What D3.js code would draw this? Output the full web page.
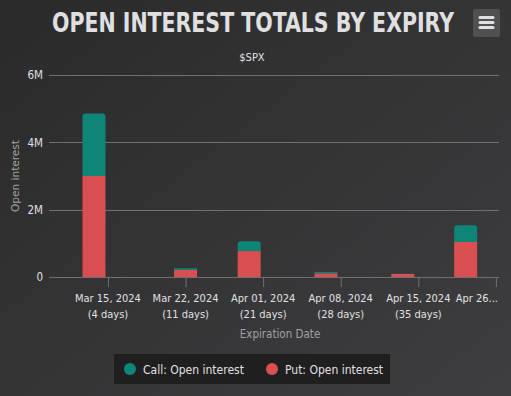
<!DOCTYPE html>
<html>
<head>
<meta charset="utf-8">
<script src="https://cdn.jsdelivr.net/npm/d3@7"></script>
<style>
  html, body { margin: 0; padding: 0; background: #2a2a2b; }
  svg { display: block; }
  text { font-family: "DejaVu Sans Condensed", "Liberation Sans Narrow", "Roboto", sans-serif; }
</style>
</head>
<body>
<div id="chart"></div>
<script>
// expiries, as positions on the axis (tick index units)
var barPos = [-0.18, 1.0, 1.82, 2.81, 3.80, 4.61];
var putOI  = [3000000, 210000, 770000, 110000, 90000, 1040000];
var callOI = [1860000, 50000, 290000, 40000, 5000, 500000];

var tickPos = [0, 1, 2, 3, 4, 5];
var tickDate = ["Mar 15, 2024", "Mar 22, 2024", "Apr 01, 2024", "Apr 08, 2024", "Apr 15, 2024", "Apr 26..."];
var tickDays = ["(4 days)", "(11 days)", "(21 days)", "(28 days)", "(35 days)", ""];

var yTicks = [0, 2000000, 4000000, 6000000];

var W = 511, H = 396;
var callColor = "#0f8577", putColor = "#d94f51";

var svg = d3.select("#chart").append("svg")
  .attr("width", W)
  .attr("height", H);

var defs = svg.append("defs");
var grad = defs.append("linearGradient")
  .attr("id", "bg")
  .attr("x1", 0).attr("y1", 0).attr("x2", 1).attr("y2", 1);
grad.append("stop").attr("offset", 0).attr("stop-color", "#2a2a2b");
grad.append("stop").attr("offset", 1).attr("stop-color", "#3e3e40");

svg.append("rect")
  .attr("width", W).attr("height", H)
  .attr("fill", "url(#bg)");

var x = d3.scaleLinear().domain([-0.76, 5.04]).range([49, 499]);
var y = d3.scaleLinear().domain([0, 6000000]).range([277, 75]);

// title + subtitle
svg.append("text")
  .attr("x", 253).attr("y", 32)
  .attr("text-anchor", "middle")
  .attr("fill", "#e0e0e3")
  .attr("font-size", 26)
  .attr("font-weight", "bold")
  .attr("textLength", 402)
  .attr("lengthAdjust", "spacingAndGlyphs")
  .text("OPEN INTEREST TOTALS BY EXPIRY");

svg.append("text")
  .attr("x", 252).attr("y", 61)
  .attr("text-anchor", "middle")
  .attr("fill", "#e0e0e3")
  .attr("font-size", 11)
  .text("$SPX");

// menu button
var menu = svg.append("g").attr("transform", "translate(473,9)");
menu.append("rect")
  .attr("width", 27).attr("height", 28).attr("rx", 2)
  .attr("fill", "#505053");
[8.5, 13.5, 18.5].forEach(function(d){
  menu.append("line")
    .attr("x1", 7).attr("x2", 20).attr("y1", d).attr("y2", d)
    .attr("stroke", "#e0e0e3").attr("stroke-width", 3)
    .attr("stroke-linecap", "round");
});

// grid
svg.append("g").selectAll("line")
  .data(yTicks.slice(1))
  .enter().append("line")
  .attr("x1", 49).attr("x2", 499)
  .attr("y1", function(d){ return Math.round(y(d)) + 0.5; })
  .attr("y2", function(d){ return Math.round(y(d)) + 0.5; })
  .attr("stroke", "#707073");

// y axis
var yAxis = svg.append("g")
  .attr("transform", "translate(49,0)")
  .call(d3.axisLeft(y).tickValues(yTicks).tickSize(0).tickPadding(6)
    .tickFormat(function(d){ return d === 0 ? "0" : (d / 1e6) + "M"; }));
yAxis.select(".domain").remove();
yAxis.selectAll("text")
  .attr("fill", "#e0e0e3")
  .attr("font-size", 11.5)
  .style("font-family", "'DejaVu Sans Condensed', 'Liberation Sans Narrow', sans-serif");

svg.append("text")
  .attr("transform", "translate(19,176) rotate(-90)")
  .attr("text-anchor", "middle")
  .attr("fill", "#a0a0a3")
  .attr("font-size", 11)
  .attr("textLength", 72)
  .attr("lengthAdjust", "spacingAndGlyphs")
  .text("Open interest");

// x axis
var xAxis = svg.append("g")
  .attr("transform", "translate(0,277)")
  .call(d3.axisBottom(x).tickValues(tickPos).tickSize(10).tickFormat(""));
xAxis.select(".domain").attr("d", "M49,0.5H499").attr("stroke", "#707073");
xAxis.selectAll(".tick line").attr("stroke", "#707073");
xAxis.selectAll(".tick text").remove();

var lbl = svg.append("g").selectAll("g")
  .data(tickPos)
  .enter().append("g");
lbl.append("text")
  .attr("x", function(d, i){ return i === 5 ? 498 : x(d); })
  .attr("y", 302)
  .attr("text-anchor", function(d, i){ return i === 5 ? "end" : "middle"; })
  .attr("fill", "#e0e0e3")
  .attr("font-size", 11)
  .text(function(d, i){ return tickDate[i]; });
lbl.append("text")
  .attr("x", function(d){ return x(d); })
  .attr("y", 318)
  .attr("text-anchor", "middle")
  .attr("fill", "#e0e0e3")
  .attr("font-size", 11)
  .text(function(d, i){ return tickDays[i]; });

svg.append("text")
  .attr("x", 280).attr("y", 338)
  .attr("text-anchor", "middle")
  .attr("fill", "#a0a0a3")
  .attr("font-size", 11.5)
  .text("Expiration Date");

// stacked bars, rounded on top
var bw = 23, r = 3;
function topRounded(x0, y0, w, h){
  if (h < r) { return "M" + x0 + "," + (y0 + h) + "V" + y0 + "H" + (x0 + w) + "V" + (y0 + h) + "Z"; }
  return "M" + x0 + "," + (y0 + h) +
    "V" + (y0 + r) + "Q" + x0 + "," + y0 + " " + (x0 + r) + "," + y0 +
    "H" + (x0 + w - r) + "Q" + (x0 + w) + "," + y0 + " " + (x0 + w) + "," + (y0 + r) +
    "V" + (y0 + h) + "Z";
}

var bars = svg.append("g").selectAll("g")
  .data(barPos)
  .enter().append("g");

bars.append("rect")
  .attr("x", function(d){ return x(d) - bw / 2; })
  .attr("width", bw)
  .attr("y", function(d, i){ return y(putOI[i]); })
  .attr("height", function(d, i){ return y(0) - y(putOI[i]); })
  .attr("fill", putColor);

bars.append("path")
  .attr("d", function(d, i){
    var top = y(putOI[i] + callOI[i]);
    return topRounded(x(d) - bw / 2, top, bw, y(putOI[i]) - top);
  })
  .attr("fill", callColor);

// legend
var leg = svg.append("g").attr("transform", "translate(114,354)");
leg.append("rect")
  .attr("width", 276).attr("height", 30)
  .attr("fill", "#1f1f20");
var items = [
  {name: "Call: Open interest", color: callColor, x: 16},
  {name: "Put: Open interest", color: putColor, x: 158}
];
var it = leg.selectAll("g.item")
  .data(items)
  .enter().append("g")
  .attr("transform", function(d){ return "translate(" + d.x + ",15)"; });
it.append("circle")
  .attr("r", 6)
  .attr("fill", function(d){ return d.color; });
it.append("text")
  .attr("x", 13).attr("y", 4.5)
  .attr("fill", "#e0e0e3")
  .attr("font-size", 12)
  .text(function(d){ return d.name; });
</script>
</body>
</html>
